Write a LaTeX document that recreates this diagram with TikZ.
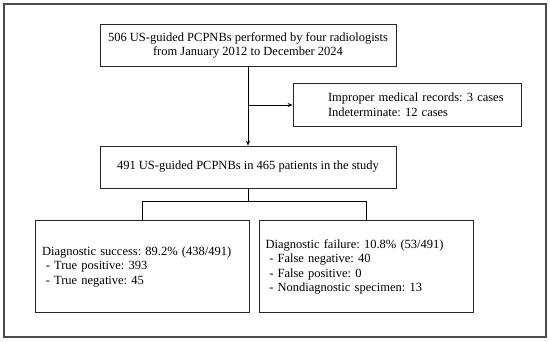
\documentclass[tikz,border=0pt]{standalone}
\usepackage{fontspec}
\setmainfont{Liberation Serif}
\usetikzlibrary{arrows.meta}
\frenchspacing

\begin{document}
\begin{tikzpicture}[
    x=1pt, y=-1pt,
    >={Stealth[length=5pt,width=4pt]},
    line width=0.8pt,
    every node/.style={draw=black!85, rectangle, inner sep=0pt,
      font=\fontsize{12.5}{14.5}\selectfont},
    box/.style={minimum width=296pt, minimum height=42pt, align=center},
    sidebox/.style={text width=208pt, inner xsep=10pt, minimum height=43.4pt, align=left},
    listbox/.style={text width=201pt, inner xsep=6.5pt, minimum height=92pt, align=left}
]
  \useasboundingbox (0,0) rectangle (550,342);
  \draw[line width=1.5pt, black!70] (4,4) rectangle (546,337);

  % nodes
  \node[box] (start) at (248,45.5)
    {506 US-guided PCPNBs performed by four radiologists\\from January 2012 to December 2024};
  \node[sidebox] (excl) at (407,105)
    {\hspace*{25pt}Improper medical records: 3 cases\\\hspace*{25pt}Indeterminate: 12 cases};
  \node[box] (study) at (248,167)
    {491 US-guided PCPNBs in 465 patients in the study};
  \node[listbox] (succ) at (142.5,266.7)
    {Diagnostic success: 89.2\% (438/491)\\
     \hspace*{0.3em}- True positive: 393\\
     \hspace*{0.3em}- True negative: 45};
  \node[listbox] (fail) at (366,266.7)
    {Diagnostic failure: 10.8\% (53/491)\\
     \hspace*{0.3em}- False negative: 40\\
     \hspace*{0.3em}- False positive: 0\\
     \hspace*{0.3em}- Nondiagnostic specimen: 13};
  \coordinate (tap) at (start.south |- excl.west);
  \coordinate (split) at (248,201.7);

  % edges
  \draw[->] (start) -- (study);
  \draw[->] (tap) -- (excl);
  \draw (study) -- (split);
  \draw (succ.north) |- (split) -| (fail.north);
\end{tikzpicture}
\end{document}
